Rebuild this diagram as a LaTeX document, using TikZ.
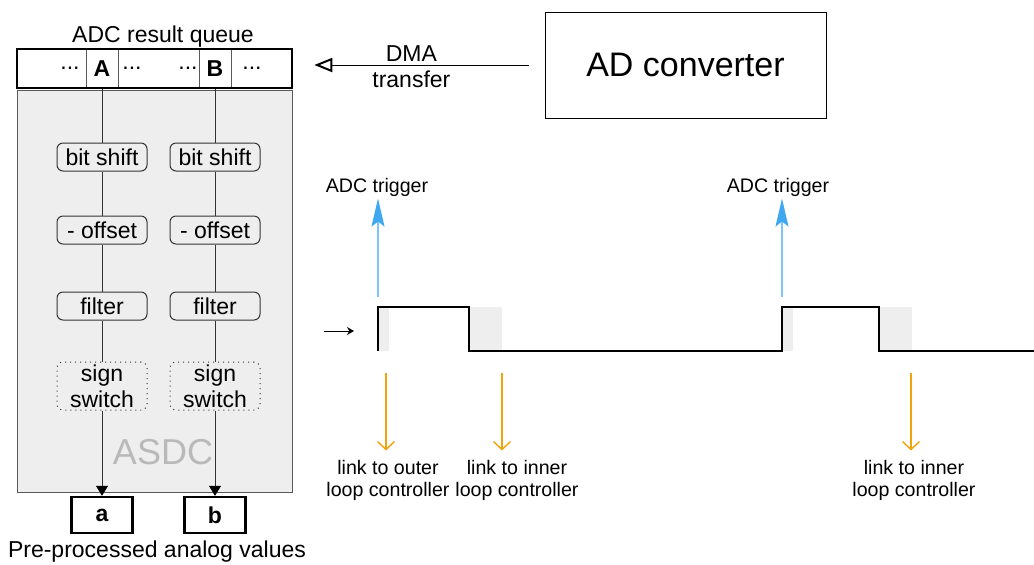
\documentclass[tikz,border=0pt]{standalone}
\usepackage{fontspec}
\setmainfont{Liberation Sans}
\usetikzlibrary{positioning,arrows.meta}
\definecolor{trigblue}{RGB}{64,168,240}
\definecolor{trigline}{RGB}{125,198,245}
\definecolor{linkorange}{RGB}{240,163,10}
\definecolor{panelgray}{RGB}{238,238,238}

\tikzset{
  every node/.style={font=\fontsize{11.5}{13}\selectfont, inner sep=0pt},
  stage/.style={draw=black!80, line width=0.5pt, rounded corners=3pt, minimum width=45pt, minimum height=14pt},
  optstage/.style={stage, dotted, minimum height=24pt, align=center},
  cell/.style={draw=gray!70!black, line width=0.5pt, minimum width=16pt, minimum height=19.5pt, font=\fontsize{11.5}{13}\selectfont\bfseries},
  value/.style={draw, line width=1.2pt, minimum width=30.5pt, minimum height=18pt, font=\fontsize{11.5}{13}\selectfont\bfseries},
  small/.style={font=\fontsize{9.8}{11}\selectfont, align=center},
  trig/.style={trigline, line width=0.6pt, -{Stealth[length=14pt,width=6.5pt,inset=2.5pt,color=trigblue]}},
  link/.style={linkorange, line width=0.7pt, -{Straight Barb[length=4pt,width=8.5pt]}},
}

\begin{document}
\begin{tikzpicture}[x=0.5pt,y=-0.5pt]
  \useasboundingbox (0,0) rectangle (1034,564);

  % processing block
  \draw[gray!70!black, fill=panelgray] (17,90) rectangle (292,492);
  \node[text=gray!55, font=\fontsize{18}{20}\selectfont] at (163,452) {ASDC};

  % result queue
  \node[cell] (cellA) at (102,68.5) {A};
  \node[cell] (cellB) at (215,68.5) {B};
  \node at (70,68.5)  {...};
  \node at (132,68.5) {...};
  \node at (188,68.5) {...};
  \node at (252,68.5) {...};
  \node[draw, line width=1.3pt, minimum width=137.5pt, minimum height=19.5pt] (queue) at (154.5,68.5) {};
  \node at (163,37) {ADC result queue};

  % channel a
  \node[stage]    (shiftA) at (102,157) {bit shift};
  \node[stage]    (offA)   at (102,230) {- offset};
  \node[stage]    (filtA)  at (102,306) {filter};
  \node[optstage] (signA)  at (102,386) {sign\\switch};
  \node[value]    (valA)   at (102,515) {a};

  % channel b
  \node[stage]    (shiftB) at (215,157) {bit shift};
  \node[stage]    (offB)   at (215,230) {- offset};
  \node[stage]    (filtB)  at (215,306) {filter};
  \node[optstage] (signB)  at (215,386) {sign\\switch};
  \node[value]    (valB)   at (215,515) {b};

  \draw[black!80] (cellA) -- (shiftA) -- (offA) -- (filtA) -- (signA);
  \draw[black!80, -{Triangle[length=5pt,width=6pt,color=black]}] (signA) -- (valA);
  \draw[black!80] (cellB) -- (shiftB) -- (offB) -- (filtB) -- (signB);
  \draw[black!80, -{Triangle[length=5pt,width=6pt,color=black]}] (signB) -- (valB);

  \node at (157,552) {Pre-processed analog values};

  % converter
  \node[draw, line width=0.5pt, minimum width=140.5pt, minimum height=53pt, font=\fontsize{17}{20}\selectfont] (adc) at (685.5,65) {AD converter};
  \draw[line width=0.5pt, -{Triangle[open,length=9pt,width=7pt,line width=1pt]}, shorten <=8pt, shorten >=10.5pt]
    (adc.west) -- (adc.west -| queue.east)
    node[pos=0.53, above=1.5pt] {DMA}
    node[pos=0.53, below=2.5pt] {transfer};

  % timing
  \fill[panelgray] (378,307) rectangle (389,351);
  \fill[panelgray] (469,307) rectangle (502,351);
  \fill[panelgray] (782,307) rectangle (793,351);
  \fill[panelgray] (879,307) rectangle (912,351);
  \draw[line width=1pt] (378,351) -- (378,307) -- (469,307) -- (469,351) -- (782,351)
    -- (782,307) -- (879,307) -- (879,351) -- (1034,351);
  \draw[line width=0.5pt, -{Stealth[length=3.5pt,width=4pt]}] (324,331) -- (354,331);

  \node[small] (trigA) at (377,187) {ADC trigger};
  \node[small] (trigB) at (778,187) {ADC trigger};
  \coordinate (riseA) at (378,297);
  \coordinate (riseB) at (782,297);
  \draw[trig, shorten >=1pt] (riseA) -- (trigA.south -| riseA);
  \draw[trig, shorten >=1pt] (riseB) -- (trigB.south -| riseB);

  \node[small] (linkA) at (388,480) {link to outer\\loop controller};
  \node[small] (linkB) at (517,480) {link to inner\\loop controller};
  \node[small] (linkC) at (914,480) {link to inner\\loop controller};
  \coordinate (fallA) at (386,373);
  \coordinate (fallB) at (502,373);
  \coordinate (fallC) at (911,373);
  \draw[link, shorten >=4.5pt] (fallA) -- (linkA.north -| fallA);
  \draw[link, shorten >=4.5pt] (fallB) -- (linkB.north -| fallB);
  \draw[link, shorten >=4.5pt] (fallC) -- (linkC.north -| fallC);
\end{tikzpicture}
\end{document}
